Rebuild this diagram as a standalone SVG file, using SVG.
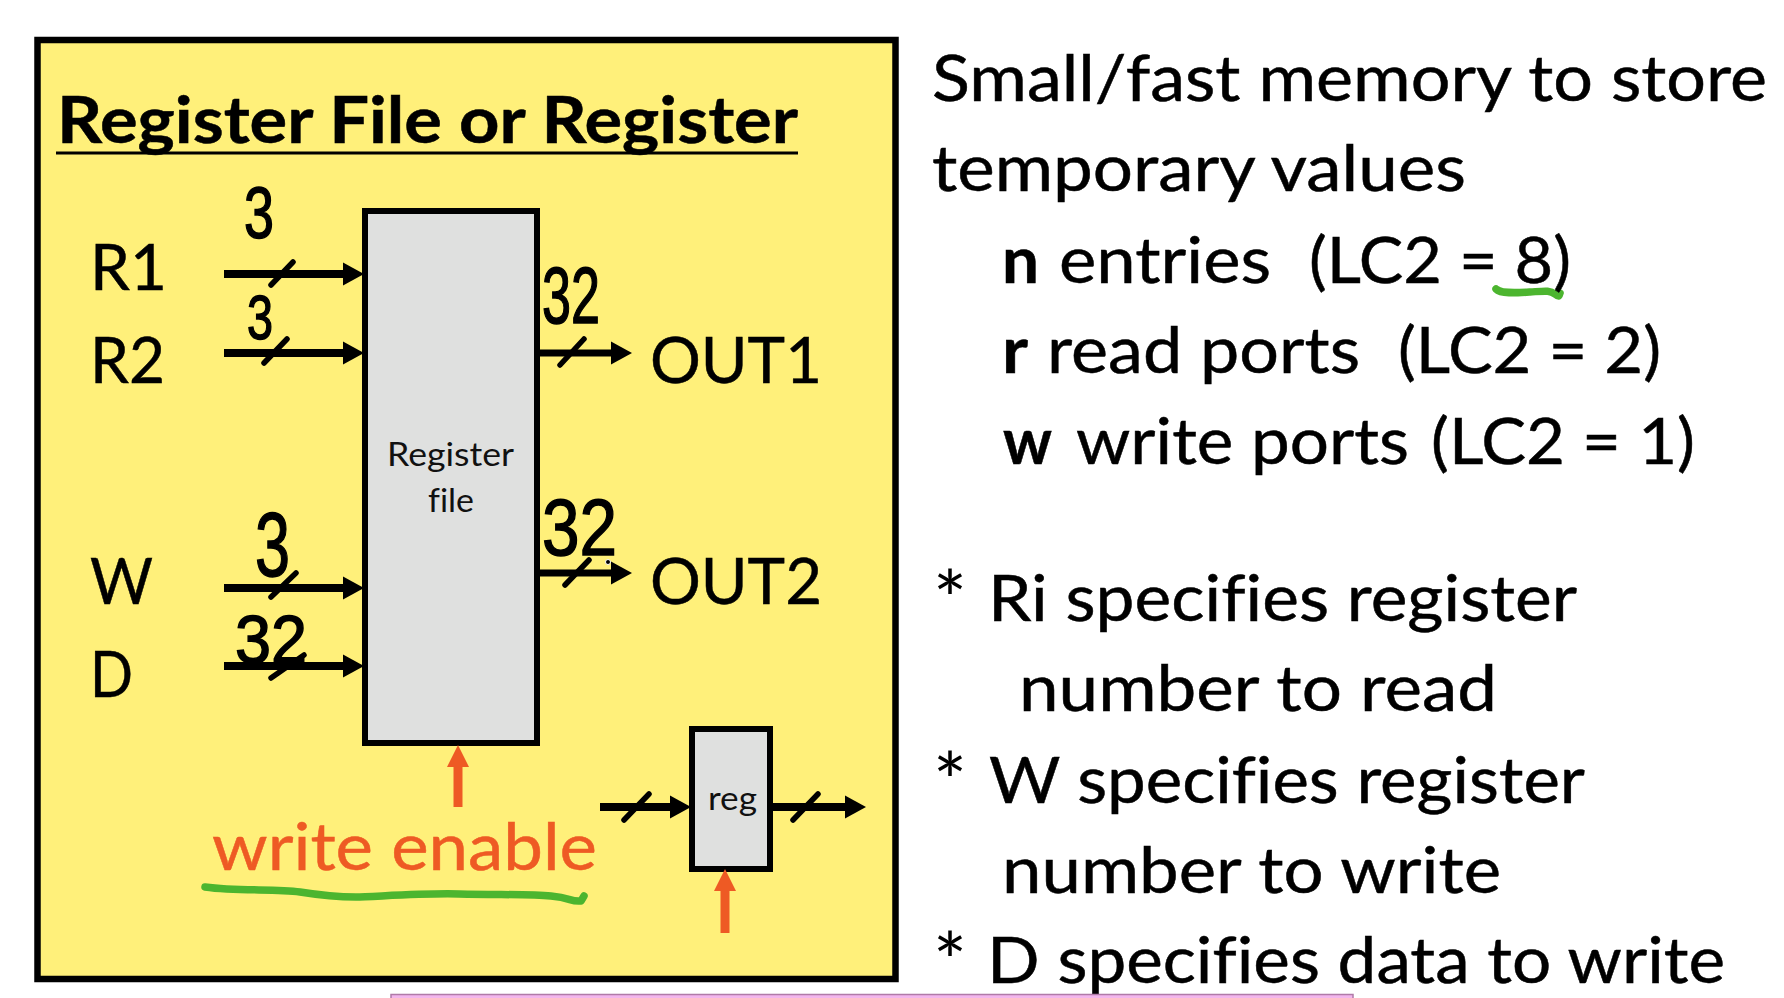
<svg xmlns="http://www.w3.org/2000/svg" width="1784" height="998" viewBox="0 0 1784 998">
<style>
text{font-family:Lato,"Liberation Sans",sans-serif;fill:#000;font-size:64px;font-variant-ligatures:none;stroke:#000;stroke-width:.5px}
.b{font-weight:700}
.t{font-size:65px;font-weight:700}
.s{font-size:32px;fill:#111;stroke:none}
.o{fill:#ee5a24;stroke:#ee5a24;font-size:66px}
.a{font-size:80px;stroke:none}
.h{font-family:"Liberation Sans",sans-serif;stroke:#000;stroke-width:1.5px}
.box{fill:#dfe0df;stroke:#000;stroke-width:6}
.w{stroke:#000;stroke-width:8;fill:none}
.w2{stroke:#000;stroke-width:7;fill:none}
.sl{stroke:#000;stroke-width:5.500;fill:none;stroke-linecap:round}
.or{stroke:#ee5a24;stroke-width:9;fill:none}
.gr{stroke:#4cb52f;stroke-width:7.500;fill:none;stroke-linecap:round;stroke-linejoin:round}
</style>
<defs>
<marker id="ah" markerUnits="userSpaceOnUse" markerWidth="22" markerHeight="24" refX="3" refY="12" orient="auto"><path d="M0 0.500L21 12L0 23.500Z" fill="#000"/></marker>
<marker id="ao" markerUnits="userSpaceOnUse" markerWidth="23" markerHeight="24" refX="3" refY="12" orient="auto"><path d="M0 1L22 12L0 23Z" fill="#ee5a24"/></marker>
</defs>
<rect width="1784" height="998" fill="#fff"/>
<rect id="panel" x="37.5" y="40" width="858" height="939" fill="#fff07a" stroke="#000" stroke-width="6.5"/>
<g id="title"><text class="t" x="57" y="143" textLength="741" lengthAdjust="spacingAndGlyphs">Register File or Register</text><rect x="56" y="151.500" width="742" height="3"/></g>
<g id="register-file"><rect class="box" x="365" y="211" width="172" height="532"/><text class="s" x="387" y="466" textLength="127" lengthAdjust="spacingAndGlyphs">Register</text><text class="s" x="428" y="512" textLength="46" lengthAdjust="spacingAndGlyphs">file</text></g>
<g id="reg"><rect class="box" x="692" y="729" width="78" height="140"/><text class="s" x="708" y="810" textLength="49" lengthAdjust="spacingAndGlyphs">reg</text></g>
<g id="ports">
<text x="90" y="290" textLength="77" lengthAdjust="spacingAndGlyphs">R1</text>
<text x="90" y="383" textLength="75" lengthAdjust="spacingAndGlyphs">R2</text>
<text x="90" y="604" textLength="63" lengthAdjust="spacingAndGlyphs">W</text>
<text x="90" y="697" textLength="43" lengthAdjust="spacingAndGlyphs">D</text>
<text x="650" y="383" textLength="172" lengthAdjust="spacingAndGlyphs">OUT1</text>
<text x="650" y="604" textLength="172" lengthAdjust="spacingAndGlyphs">OUT2</text>
</g>
<g id="connectors">
<path class="w" d="M224 274H346" marker-end="url(#ah)"/>
<path class="w" d="M224 353H346" marker-end="url(#ah)"/>
<path class="w" d="M224 588H346" marker-end="url(#ah)"/>
<path class="w" d="M224 666H346" marker-end="url(#ah)"/>
<path class="w2" d="M540 353H614" marker-end="url(#ah)"/>
<path class="w2" d="M540 573H614" marker-end="url(#ah)"/>
<path class="w" d="M600 807H673" marker-end="url(#ah)"/>
<path class="w" d="M773 807H848" marker-end="url(#ah)"/>
<path class="or" d="M458 807V764" marker-end="url(#ao)"/>
<path class="or" d="M725 933V888" marker-end="url(#ao)"/>
<path class="sl" d="M271 285L293 262M264 363L287 339M560 365L584 339M271 597L296 573M271 678L304 655M565 585L589 560M624 820L649 794M793 820L818 794"/>
</g>
<g id="annotations">
<text class="h" x="244" y="238" style="font-size:73px" textLength="30" lengthAdjust="spacingAndGlyphs">3</text>
<text class="h" x="247" y="339" style="font-size:63px" textLength="26" lengthAdjust="spacingAndGlyphs">3</text>
<text class="h" x="542" y="323" style="font-size:80px" textLength="58" lengthAdjust="spacingAndGlyphs">32</text>
<text class="h" x="542" y="555" style="font-size:80px" textLength="75" lengthAdjust="spacingAndGlyphs">32</text>
<text class="h" x="255" y="576" style="font-size:90px" textLength="35" lengthAdjust="spacingAndGlyphs">3</text>
<text class="h" x="235" y="663" style="font-size:68px" textLength="72" lengthAdjust="spacingAndGlyphs">32</text>
<circle cx="608" cy="562" r="2.500" fill="#000" stroke="#fff" stroke-width="1"/>
<path class="gr" d="M205 887C240 892 275 888 300 892S340 897 356 897S420 893 459 894S530 894 551 896S570 902 581 901L584 896"/>
<path class="gr" d="M1496 289C1501 294 1515 293 1530 292S1550 290 1555 294S1559 295 1560 293"/>
</g>
<text id="write-enable" class="o" x="212" y="870" textLength="385" lengthAdjust="spacingAndGlyphs">write enable</text>
<g id="notes">
<text x="932" y="101" textLength="835" lengthAdjust="spacingAndGlyphs">Small/fast memory to store</text>
<text x="932" y="191" textLength="534" lengthAdjust="spacingAndGlyphs">temporary values</text>
<text class="b" x="1002" y="283" textLength="37" lengthAdjust="spacingAndGlyphs">n</text>
<text x="1059" y="283" textLength="212" lengthAdjust="spacingAndGlyphs">entries</text>
<text x="1309" y="283" textLength="262" lengthAdjust="spacingAndGlyphs">(LC2 = 8)</text>
<text class="b" x="1002" y="373" textLength="26" lengthAdjust="spacingAndGlyphs">r</text>
<text x="1047" y="373" textLength="313" lengthAdjust="spacingAndGlyphs">read ports</text>
<text x="1398" y="373" textLength="263" lengthAdjust="spacingAndGlyphs">(LC2 = 2)</text>
<text class="b" x="1003" y="464" textLength="49" lengthAdjust="spacingAndGlyphs">w</text>
<text x="1076" y="464" textLength="333" lengthAdjust="spacingAndGlyphs">write ports</text>
<text x="1431" y="464" textLength="264" lengthAdjust="spacingAndGlyphs">(LC2 = 1)</text>
<text class="a" x="933" y="628">*</text>
<text x="988" y="621" textLength="589" lengthAdjust="spacingAndGlyphs">Ri specifies register</text>
<text x="1019" y="711" textLength="478" lengthAdjust="spacingAndGlyphs">number to read</text>
<text class="a" x="933" y="810">*</text>
<text x="989" y="803" textLength="596" lengthAdjust="spacingAndGlyphs">W specifies register</text>
<text x="1002" y="893" textLength="499" lengthAdjust="spacingAndGlyphs">number to write</text>
<text class="a" x="933" y="990">*</text>
<text x="987" y="983" textLength="738" lengthAdjust="spacingAndGlyphs">D specifies data to write</text>
</g>
<g id="pink-bar"><rect x="391" y="994.500" width="962" height="7" fill="#f2b6ec" stroke="#b07aa8" stroke-width="1.500"/></g>
</svg>
